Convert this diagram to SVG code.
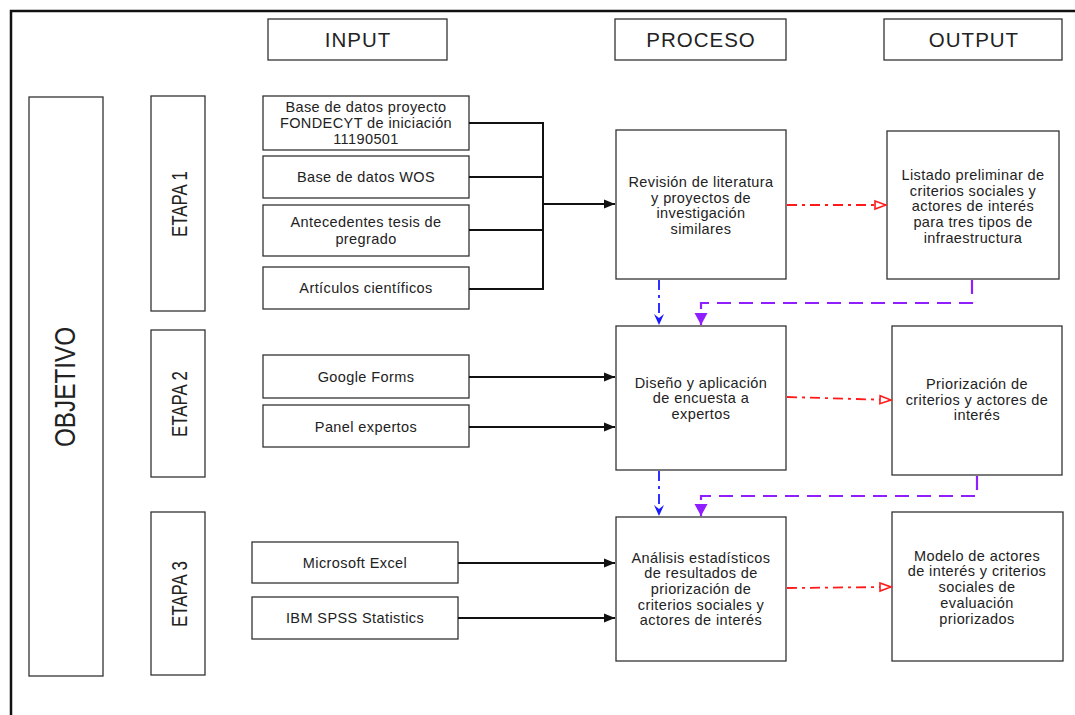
<svg xmlns="http://www.w3.org/2000/svg" width="1075" height="715" viewBox="0 0 1075 715">
<style>
.box{fill:#fff;stroke:#333;stroke-width:1.3}
.t{font-family:"Liberation Sans",Arial,sans-serif;font-size:14.5px;letter-spacing:0.4px;fill:#222;text-anchor:middle}
.h{font-family:"Liberation Sans",Arial,sans-serif;font-size:20.5px;letter-spacing:1px;fill:#222;text-anchor:middle}
.v{font-family:"Liberation Sans",Arial,sans-serif;fill:#222;text-anchor:middle}
.blk{fill:none;stroke:#111;stroke-width:2}
.red{fill:none;stroke:#ff1a1a;stroke-width:1.8;stroke-dasharray:10 5 3 5}
.blue{fill:none;stroke:#1a1aff;stroke-width:1.8;stroke-dasharray:10 5 3 5}
.pur{fill:none;stroke:#8f1fff;stroke-width:2.2;stroke-dasharray:14 8}
</style>
<defs>
<marker id="aBlk" markerUnits="userSpaceOnUse" markerWidth="12" markerHeight="10" refX="11" refY="5" orient="auto"><path d="M0,0.5 L11,5 L0,9.5 z" fill="#111"/></marker>
<marker id="aRed" markerUnits="userSpaceOnUse" markerWidth="14" markerHeight="12" refX="12" refY="6" orient="auto"><path d="M1,2 L12,6 L1,10 z" fill="#fff" stroke="#ff1a1a" stroke-width="1.6"/></marker>
<marker id="aBlue" markerUnits="userSpaceOnUse" markerWidth="12" markerHeight="12" refX="11" refY="6" orient="auto"><path d="M0,1 L11,6 L0,11 L4,6 z" fill="#1a1aff"/></marker>
<marker id="aPur" markerUnits="userSpaceOnUse" markerWidth="14" markerHeight="14" refX="12" refY="7" orient="auto"><path d="M0,0.5 L12,7 L0,13.5 z" fill="#8f1fff"/></marker>
</defs>
<rect width="1075" height="715" fill="#fff"/>
<path d="M11,715 L11,11 L1075,11" fill="none" stroke="#111" stroke-width="2.5"/>

<g id="hdr-input"><rect class="box" x="268" y="19" width="179" height="41"/><text class="h" x="358" y="47">INPUT</text></g>
<g id="hdr-proceso"><rect class="box" x="615" y="19" width="171" height="41"/><text class="h" x="701" y="47">PROCESO</text></g>
<g id="hdr-output"><rect class="box" x="884" y="19" width="178" height="41"/><text class="h" x="974" y="47">OUTPUT</text></g>

<g id="objetivo"><rect class="box" x="29" y="97" width="74" height="579"/><text class="v" style="font-size:30px" textLength="120" lengthAdjust="spacingAndGlyphs" transform="translate(75,387) rotate(-90)">OBJETIVO</text></g>
<g id="etapa1"><rect class="box" x="151" y="96" width="54" height="215"/><text class="v" style="font-size:22px" textLength="66" lengthAdjust="spacingAndGlyphs" transform="translate(187,204) rotate(-90)">ETAPA 1</text></g>
<g id="etapa2"><rect class="box" x="151" y="330" width="54" height="147"/><text class="v" style="font-size:22px" textLength="66" lengthAdjust="spacingAndGlyphs" transform="translate(187,404) rotate(-90)">ETAPA 2</text></g>
<g id="etapa3"><rect class="box" x="151" y="512" width="54" height="163"/><text class="v" style="font-size:22px" textLength="66" lengthAdjust="spacingAndGlyphs" transform="translate(187,594) rotate(-90)">ETAPA 3</text></g>

<g id="in-fondecyt"><rect class="box" x="263" y="96" width="206" height="54"/><text class="t" x="366" y="112">Base de datos proyecto</text><text class="t" x="366" y="128">FONDECYT de iniciación</text><text class="t" x="366" y="144">11190501</text></g>
<g id="in-wos"><rect class="box" x="263" y="156" width="206" height="42"/><text class="t" x="366" y="182">Base de datos WOS</text></g>
<g id="in-tesis"><rect class="box" x="263" y="205" width="206" height="51"/><text class="t" x="366" y="227">Antecedentes tesis de</text><text class="t" x="366" y="244">pregrado</text></g>
<g id="in-articulos"><rect class="box" x="263" y="267" width="206" height="42"/><text class="t" x="366" y="293">Artículos científicos</text></g>
<g id="in-google"><rect class="box" x="263" y="355" width="206" height="43"/><text class="t" x="366" y="382">Google Forms</text></g>
<g id="in-panel"><rect class="box" x="263" y="405" width="206" height="42"/><text class="t" x="366" y="432">Panel expertos</text></g>
<g id="in-excel"><rect class="box" x="252" y="542" width="206" height="41"/><text class="t" x="355" y="568">Microsoft Excel</text></g>
<g id="in-spss"><rect class="box" x="252" y="597" width="206" height="42"/><text class="t" x="355" y="623">IBM SPSS Statistics</text></g>

<g id="proc1"><rect class="box" x="616" y="130" width="170" height="149"/><text class="t" x="701" y="187">Revisión de literatura</text><text class="t" x="701" y="203">y proyectos de</text><text class="t" x="701" y="218">investigación</text><text class="t" x="701" y="234">similares</text></g>
<g id="proc2"><rect class="box" x="616" y="326" width="170" height="144"/><text class="t" x="701" y="388">Diseño y aplicación</text><text class="t" x="701" y="403">de encuesta a</text><text class="t" x="701" y="419">expertos</text></g>
<g id="proc3"><rect class="box" x="616" y="517" width="170" height="144"/><text class="t" x="701" y="563">Análisis estadísticos</text><text class="t" x="701" y="578">de resultados de</text><text class="t" x="701" y="594">priorización de</text><text class="t" x="701" y="610">criterios sociales y</text><text class="t" x="701" y="625">actores de interés</text></g>

<g id="out1"><rect class="box" x="887" y="131" width="172" height="148"/><text class="t" x="973" y="180">Listado preliminar de</text><text class="t" x="973" y="196">criterios sociales y</text><text class="t" x="973" y="211">actores de interés</text><text class="t" x="973" y="227">para tres tipos de</text><text class="t" x="973" y="243">infraestructura</text></g>
<g id="out2"><rect class="box" x="892" y="326" width="170" height="149"/><text class="t" x="977" y="389">Priorización de</text><text class="t" x="977" y="405">criterios y actores de</text><text class="t" x="977" y="420">interés</text></g>
<g id="out3"><rect class="box" x="892" y="512" width="171" height="149"/><text class="t" x="977" y="561">Modelo de actores</text><text class="t" x="977" y="576">de interés y criterios</text><text class="t" x="977" y="592">sociales de</text><text class="t" x="977" y="608">evaluación</text><text class="t" x="977" y="624">priorizados</text></g>

<g id="connectors">
<path class="blk" d="M469,123 H543 M469,177 H543 M469,230 H543 M469,289 H543 M543,122 V290"/>
<path class="blk" d="M543,204 H615" marker-end="url(#aBlk)"/>
<path class="blk" d="M469,377 H615" marker-end="url(#aBlk)"/>
<path class="blk" d="M469,427 H615" marker-end="url(#aBlk)"/>
<path class="blk" d="M458,563 H615" marker-end="url(#aBlk)"/>
<path class="blk" d="M458,618 H615" marker-end="url(#aBlk)"/>
<path class="red" d="M787,205 H886" marker-end="url(#aRed)"/>
<path class="red" d="M787,397 L891,400" marker-end="url(#aRed)"/>
<path class="red" d="M787,588 L891,587" marker-end="url(#aRed)"/>
<path class="blue" d="M659,280 V325" marker-end="url(#aBlue)"/>
<path class="blue" d="M659,471 V516" marker-end="url(#aBlue)"/>
<path class="pur" d="M972,280 V303 H701 V325" marker-end="url(#aPur)"/>
<path class="pur" d="M977,476 V496 H701 V516" marker-end="url(#aPur)"/>
</g>
</svg>
